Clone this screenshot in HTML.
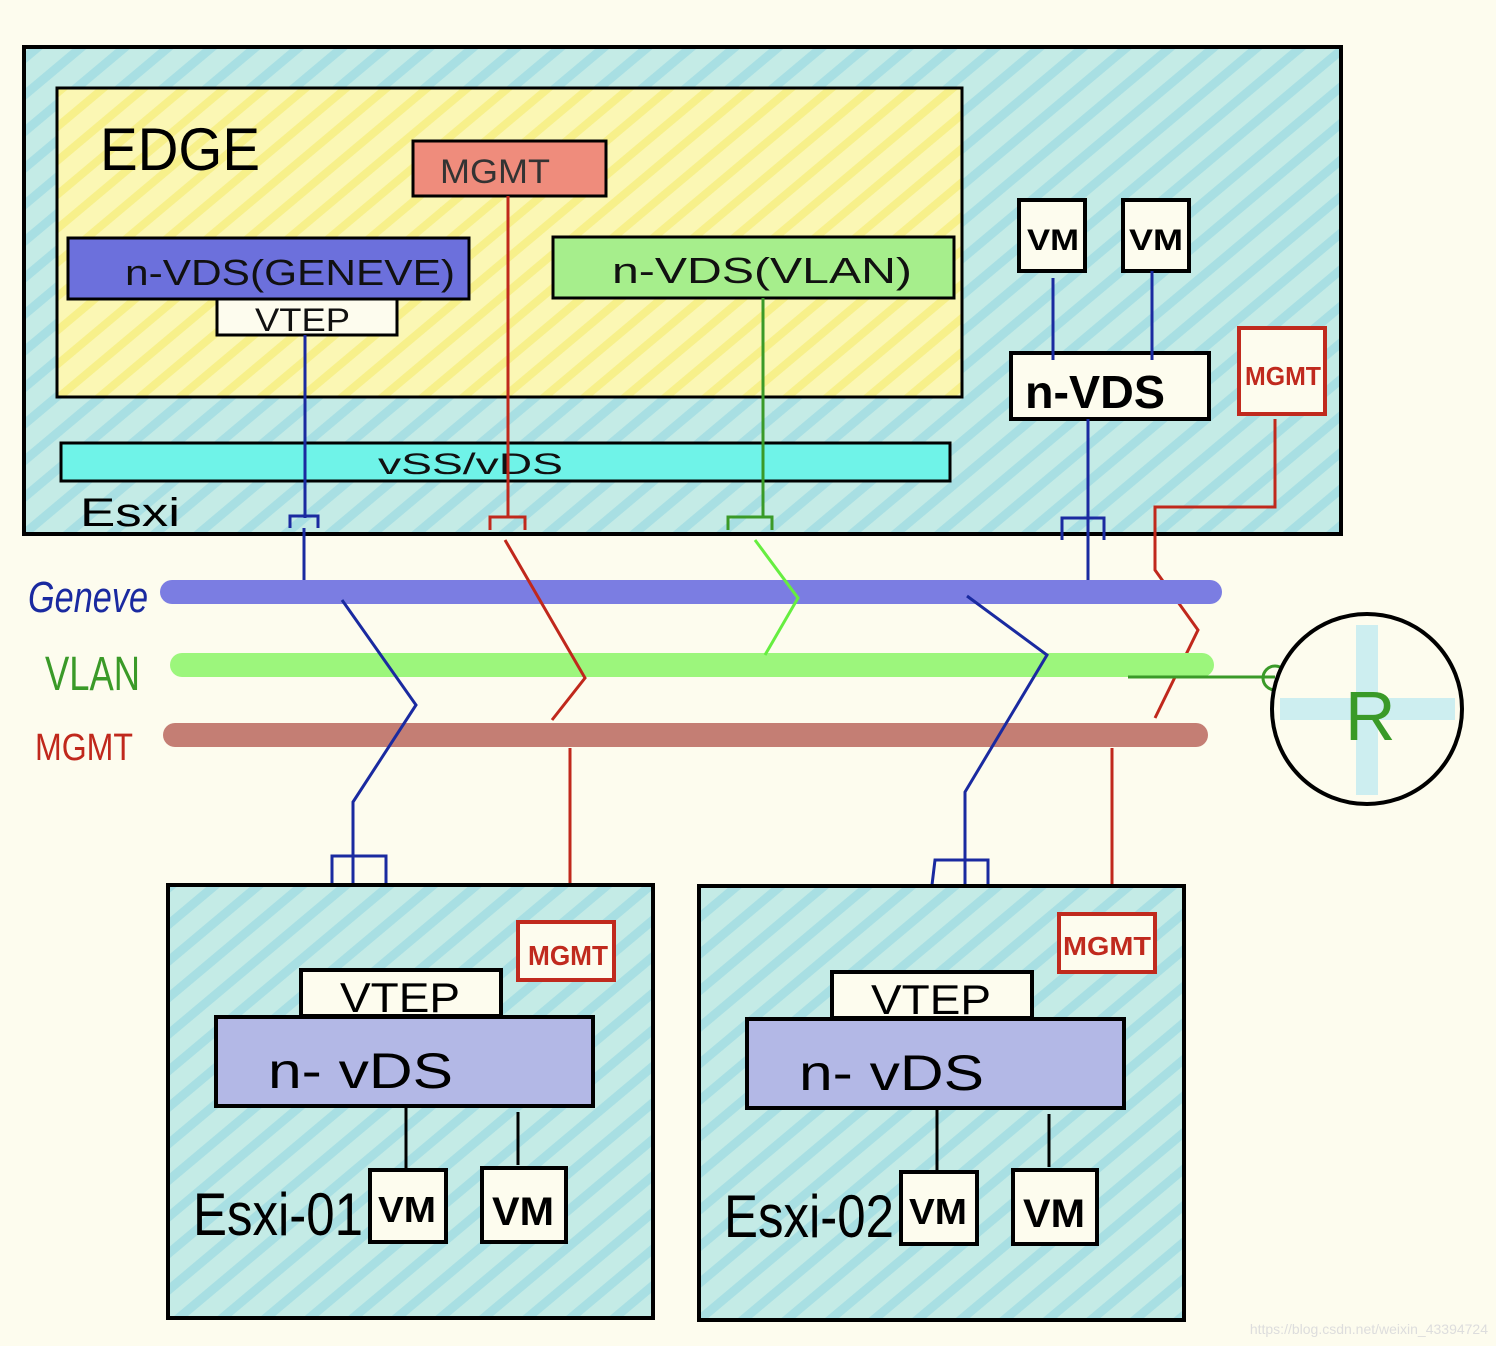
<!DOCTYPE html>
<html><head><meta charset="utf-8"><style>
html,body{margin:0;padding:0;background:#fdfcee;}
svg{display:block}
text{font-family:"Liberation Sans",sans-serif;}
</style></head><body>
<svg width="1496" height="1346" viewBox="0 0 1496 1346" xmlns="http://www.w3.org/2000/svg">
<defs>
<pattern id="hatch" width="28" height="28" patternUnits="userSpaceOnUse" patternTransform="rotate(-40)">
<rect width="28" height="28" fill="#c4ebe6"/>
<rect width="28" height="9" fill="#a8dfe3"/>
</pattern>
<pattern id="yhatch" width="26" height="26" patternUnits="userSpaceOnUse" patternTransform="rotate(-40)">
<rect width="26" height="26" fill="#fbf7b4"/>
<rect width="26" height="8" fill="#f7f08a"/>
</pattern>
</defs>
<rect width="1496" height="1346" fill="#fdfcee"/>

<rect x="24" y="47" width="1317" height="487" fill="url(#hatch)" stroke="#000" stroke-width="4"/>
<rect x="57" y="88" width="905" height="309" fill="url(#yhatch)" stroke="#000" stroke-width="3"/>
<text x="100" y="170" font-size="60" fill="#000" textLength="160" lengthAdjust="spacingAndGlyphs">EDGE</text>
<rect x="413" y="141" width="193" height="55" fill="#ef8c7c" stroke="#000" stroke-width="3"/>
<text x="440" y="183" font-size="34" fill="#333" textLength="110" lengthAdjust="spacingAndGlyphs">MGMT</text>
<rect x="68" y="238" width="401" height="61" fill="#6c70dc" stroke="#000" stroke-width="3"/>
<text x="125" y="285" font-size="36" fill="#111" textLength="330" lengthAdjust="spacingAndGlyphs">n-VDS(GENEVE)</text>
<rect x="217" y="299" width="180" height="36" fill="#fdfcee" stroke="#000" stroke-width="3"/>
<text x="255" y="331" font-size="32" fill="#111" textLength="95" lengthAdjust="spacingAndGlyphs">VTEP</text>
<rect x="553" y="237" width="401" height="61" fill="#a6ee8c" stroke="#000" stroke-width="3"/>
<text x="612" y="283" font-size="36" fill="#111" textLength="300" lengthAdjust="spacingAndGlyphs">n-VDS(VLAN)</text>
<rect x="61" y="443" width="889" height="38" fill="#6ff3e8" stroke="#000" stroke-width="3"/>
<text x="378" y="474" font-size="30" fill="#111" textLength="185" lengthAdjust="spacingAndGlyphs">vSS/vDS</text>
<text x="80" y="526" font-size="40" fill="#000" textLength="100" lengthAdjust="spacingAndGlyphs">Esxi</text>

<rect x="1019" y="200" width="66" height="71" fill="#fdfcee" stroke="#000" stroke-width="4"/>
<text x="1027" y="250" font-size="30" font-weight="bold" textLength="52" lengthAdjust="spacingAndGlyphs">VM</text>
<rect x="1123" y="200" width="66" height="71" fill="#fdfcee" stroke="#000" stroke-width="4"/>
<text x="1129" y="250" font-size="30" font-weight="bold" textLength="54" lengthAdjust="spacingAndGlyphs">VM</text>
<rect x="1011" y="353" width="198" height="66" fill="#fdfcee" stroke="#000" stroke-width="4"/>
<text x="1025" y="408" font-size="46" font-weight="bold" textLength="140" lengthAdjust="spacingAndGlyphs">n-VDS</text>
<rect x="1239" y="328" width="86" height="86" fill="#fdfcee" stroke="#c02a1e" stroke-width="4"/>
<text x="1245" y="385" font-size="26" font-weight="bold" fill="#c02a1e" textLength="76" lengthAdjust="spacingAndGlyphs">MGMT</text>

<g fill="none" stroke-width="3">
<path d="M305 335V518M290 528V516H318V528M304 528V580" stroke="#1a2aa0"/>
<path d="M508 196V518M490 530V517H525V530" stroke="#c0281c"/>
<path d="M763 298V518M728 530V517H772V530" stroke="#3a9a28"/>
<path d="M1053 278V360M1152 271V360M1088 419V580M1062 540V518H1104V540" stroke="#1a2aa0"/>
<path d="M1275 419V507H1155V570L1198 630L1155 718" stroke="#c0281c"/>
</g>

<g stroke-linecap="round">
<line x1="172" y1="592" x2="1210" y2="592" stroke="#7b7de2" stroke-width="24"/>
<line x1="182" y1="665" x2="1202" y2="665" stroke="#9cf67c" stroke-width="24"/>
<line x1="175" y1="735" x2="1196" y2="735" stroke="#c47e74" stroke-width="24"/>
</g>
<text x="28" y="612" font-size="44" fill="#1a2aa0" font-style="italic" textLength="120" lengthAdjust="spacingAndGlyphs">Geneve</text>
<text x="45" y="690" font-size="48" fill="#3a9a28" textLength="95" lengthAdjust="spacingAndGlyphs">VLAN</text>
<text x="35" y="760" font-size="38" fill="#c0281c" textLength="98" lengthAdjust="spacingAndGlyphs">MGMT</text>

<g fill="none" stroke-width="3">
<path d="M505 540L585 678L552 720" stroke="#c0281c"/>
<path d="M755 540L798 598L765 655" stroke="#66ee40"/>
<path d="M342 600L416 705L353 802V970M332 885V856H386V885" stroke="#1a2aa0"/>
<path d="M570 748V915" stroke="#c0281c"/>
<path d="M967 596L1047 655L965 792V975M932 885L935 860H988V885" stroke="#1a2aa0"/>
<path d="M1112 748V912" stroke="#c0281c"/>
<path d="M1128 677H1275" stroke="#3a9a28"/>
</g>
<circle cx="1275" cy="678" r="12" fill="none" stroke="#3a9a28" stroke-width="3"/>

<circle cx="1367" cy="709" r="95" fill="#fdfcee" stroke="#000" stroke-width="4"/>
<path d="M1367 625V795M1280 709H1455" stroke="#cdeef0" stroke-width="22"/>
<text x="1345" y="740" font-size="70" fill="#3a9a28">R</text>

<g>
<rect x="168" y="885" width="485" height="433" fill="url(#hatch)" stroke="#000" stroke-width="4"/>
<rect x="518" y="922" width="96" height="58" fill="#fdfcee" stroke="#c02a1e" stroke-width="4"/>
<text x="528" y="965" font-size="28" font-weight="bold" fill="#c02a1e" textLength="80" lengthAdjust="spacingAndGlyphs">MGMT</text>
<rect x="301" y="970" width="200" height="46" fill="#fdfcee" stroke="#000" stroke-width="4"/>
<text x="340" y="1012" font-size="42" textLength="120" lengthAdjust="spacingAndGlyphs">VTEP</text>
<rect x="216" y="1017" width="377" height="89" fill="#b3b8e6" stroke="#000" stroke-width="4"/>
<text x="268" y="1088" font-size="50" textLength="185" lengthAdjust="spacingAndGlyphs">n- vDS</text>
<path d="M406 1106V1170M518 1112V1165" stroke="#000" stroke-width="3"/>
<text x="193" y="1235" font-size="60" textLength="170" lengthAdjust="spacingAndGlyphs">Esxi-01</text>
<rect x="370" y="1170" width="76" height="72" fill="#fdfcee" stroke="#000" stroke-width="4"/>
<text x="378" y="1222" font-size="36" font-weight="bold" textLength="58" lengthAdjust="spacingAndGlyphs">VM</text>
<rect x="482" y="1168" width="84" height="74" fill="#fdfcee" stroke="#000" stroke-width="4"/>
<text x="492" y="1225" font-size="40" font-weight="bold" textLength="62" lengthAdjust="spacingAndGlyphs">VM</text>
</g>
<g>
<rect x="699" y="886" width="485" height="434" fill="url(#hatch)" stroke="#000" stroke-width="4"/>
<rect x="1059" y="914" width="96" height="58" fill="#fdfcee" stroke="#c02a1e" stroke-width="4"/>
<text x="1063" y="955" font-size="26" font-weight="bold" fill="#c02a1e" textLength="88" lengthAdjust="spacingAndGlyphs">MGMT</text>
<rect x="832" y="972" width="200" height="46" fill="#fdfcee" stroke="#000" stroke-width="4"/>
<text x="871" y="1014" font-size="42" textLength="120" lengthAdjust="spacingAndGlyphs">VTEP</text>
<rect x="747" y="1019" width="377" height="89" fill="#b3b8e6" stroke="#000" stroke-width="4"/>
<text x="799" y="1090" font-size="50" textLength="185" lengthAdjust="spacingAndGlyphs">n- vDS</text>
<path d="M937 1108V1172M1049 1114V1167" stroke="#000" stroke-width="3"/>
<text x="724" y="1237" font-size="60" textLength="170" lengthAdjust="spacingAndGlyphs">Esxi-02</text>
<rect x="901" y="1172" width="76" height="72" fill="#fdfcee" stroke="#000" stroke-width="4"/>
<text x="909" y="1224" font-size="36" font-weight="bold" textLength="58" lengthAdjust="spacingAndGlyphs">VM</text>
<rect x="1013" y="1170" width="84" height="74" fill="#fdfcee" stroke="#000" stroke-width="4"/>
<text x="1023" y="1227" font-size="40" font-weight="bold" textLength="62" lengthAdjust="spacingAndGlyphs">VM</text>
</g>
<text x="1488" y="1334" font-size="14" fill="#ddd" text-anchor="end">https://blog.csdn.net/weixin_43394724</text>
</svg>
</body></html>
